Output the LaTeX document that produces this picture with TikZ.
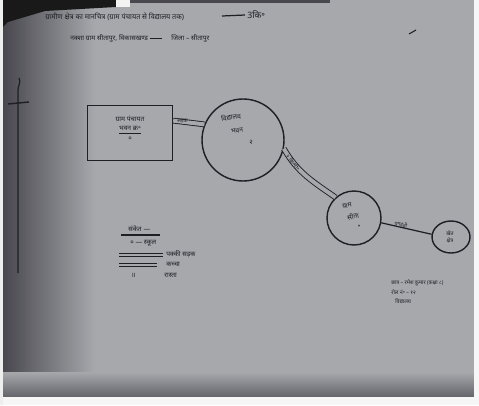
\documentclass[tikz,border=0pt]{standalone}
\usepackage{fontspec}
\newfontfamily\deva[Script=Devanagari]{Noto Sans}
\usetikzlibrary{shapes.geometric,positioning}

\definecolor{paper}{RGB}{166,168,172}
\definecolor{shadow}{RGB}{72,72,78}
\definecolor{ink}{RGB}{30,30,36}

\begin{document}
\begin{tikzpicture}[x=0.02cm,y=-0.02cm]
\tikzset{
	hall/.style={draw=ink,
		rectangle,
		line width=0.8pt,
		minimum width=1.7cm,
		minimum height=1.1cm,
		inner sep=0pt,
		font=\deva\bfseries\fontsize{3.8}{5.6}\selectfont,
		text=ink,
		align=center,
	},
	place/.style={draw=ink, circle, line width=0.8pt, inner sep=0pt},
	field/.style={draw=ink, ellipse, line width=0.8pt, inner sep=0pt,
		minimum width=0.76cm, minimum height=0.64cm},
	road/.style={draw=ink, line width=0.5pt, double=paper, double distance=0.08cm},
	track/.style={draw=ink, line width=0.7pt},
	note/.style={font=\deva\bfseries\fontsize{3.8}{4.6}\selectfont, text=ink, inner sep=0pt},
	tag/.style={font=\deva\bfseries\fontsize{3}{3.6}\selectfont, text=ink, inner sep=0.3pt},
	small/.style={note, font=\deva\bfseries\fontsize{3}{3.6}\selectfont},
}
% photo background
\fill[paper] (0,0) rectangle (479,405);
\shade[left color=shadow, right color=paper] (3,0) rectangle (95,397);
\shade[top color=paper, bottom color=shadow!70!paper] (0,372) rectangle (474,397);
\fill[black!90] (0,0) -- (116,0) -- (116,7) -- (45,11) -- (8,22) -- (0,30) -- cycle;
\fill[shadow] (130,0) rectangle (330,3);
\fill[white!85!paper] (116,0) rectangle (130,7);
\fill[white!90!paper] (0,397) rectangle (479,405);
\fill[white!90!paper] (474,0) rectangle (479,405);
\fill[white!80!paper] (0,0) rectangle (3,405);

% heading
\node[note, anchor=west, font=\deva\bfseries\fontsize{4.1}{5}\selectfont] (TITLE) at (45,17) {ग्रामीण क्षेत्र का मानचित्र (ग्राम पंचायत से विद्यालय तक)};
\draw[ink, line width=0.7pt] (222,16) -- (245,15);
\node[note, anchor=west, font=\deva\bfseries\fontsize{5}{6}\selectfont] (SCALE) at (247,15) {3कि॰};
\node[note, anchor=west] (SUBTITLE) at (70,38) {नक्शा ग्राम सीतापुर, विकासखण्ड};
\draw[ink, line width=0.5pt] (SUBTITLE.east) ++(2,0) -- ++(12,0);
\node[note, anchor=west] (VILLAGENAME) at (171,38) {जिला – सीतापुर};

% margin mark
\draw[ink, line width=0.7pt] (19,78) to[out=-60, in=90] (18,90) -- (18,273);
\draw[ink, line width=0.8pt] (8,104) -- (29,102);
\draw[ink, line width=0.6pt] (409,34) -- (416,30);

% places
\node[hall] (PANCHAYAT) at (130,133) {ग्राम पंचायत\\\underline{भवन क्र॰}\\०\\~};
\node[place, minimum size=1.64cm] (SCHOOL) at (243,140) {};
\node[note, rotate=8] (SCHOOLNAME) at (231,117) {विद्यालय};
\node[note, rotate=8] (SCHOOLHALL) at (237,131) {भवन};
\node[note] (SCHOOLNO) at (251,142) {२};
\node[place, minimum size=1.08cm] (VILLAGE) at (354,218) {};
\node[note, rotate=12] (VILLAGENAME2) at (347,206) {ग्राम};
\node[note, rotate=12] (VILLAGESUB) at (353,216) {सीता};
\node[note] (VILLAGEDOT) at (359,227) {•};
\node[field] (FIELD) at (451,237) {};
\node[small, align=center] (FIELDNAME) at (450,237) {खेत\\क्षेत्र};

% roads
{\draw[road] (PANCHAYAT.16) -- (SCHOOL.158) node[tag, pos=0.3] {सड़क};}
{\draw[road] (SCHOOL.-12) to[out=-60, in=145] node[tag, pos=0.22, sloped] {२ कि॰मी॰} (VILLAGE.132);}
{\draw[track] (VILLAGE.-10) -- (FIELD.172) node[tag, pos=0.38, sloped, above=-0.4pt] {पगडंडी};}

% key
\node[note, anchor=west] (KEY) at (128,229) {संकेत —};
\draw[ink, line width=0.6pt] (121,235) -- (160,235);
\node[note, anchor=west] (KEYSCHOOL) at (130,243) {० — स्कूल};
\draw[road, double distance=0.04cm] (119,255) -- (163,255);
\node[note, anchor=west] (KEYPUCCA) at (166,254) {पक्की सड़क};
\draw[road, double distance=0.04cm] (119,265) -- (157,265);
\node[note, anchor=west] (KEYKUCHCHA) at (166,264) {कच्चा};
\node[note, anchor=west] (KEYMARK) at (131,275) {॥};
\node[note, anchor=west] (KEYPATH) at (164,275) {रास्ता};

% student details
\node[small, anchor=west] (STUDENT) at (391,283) {छात्र – रमेश कुमार (कक्षा ८)};
\node[small, anchor=west] (ROLL) at (391,292) {रोल नं॰ – १२};
\node[small, anchor=west] (SCHOOLSIGN) at (395,301) {विद्यालय};

\end{tikzpicture}
\end{document}
